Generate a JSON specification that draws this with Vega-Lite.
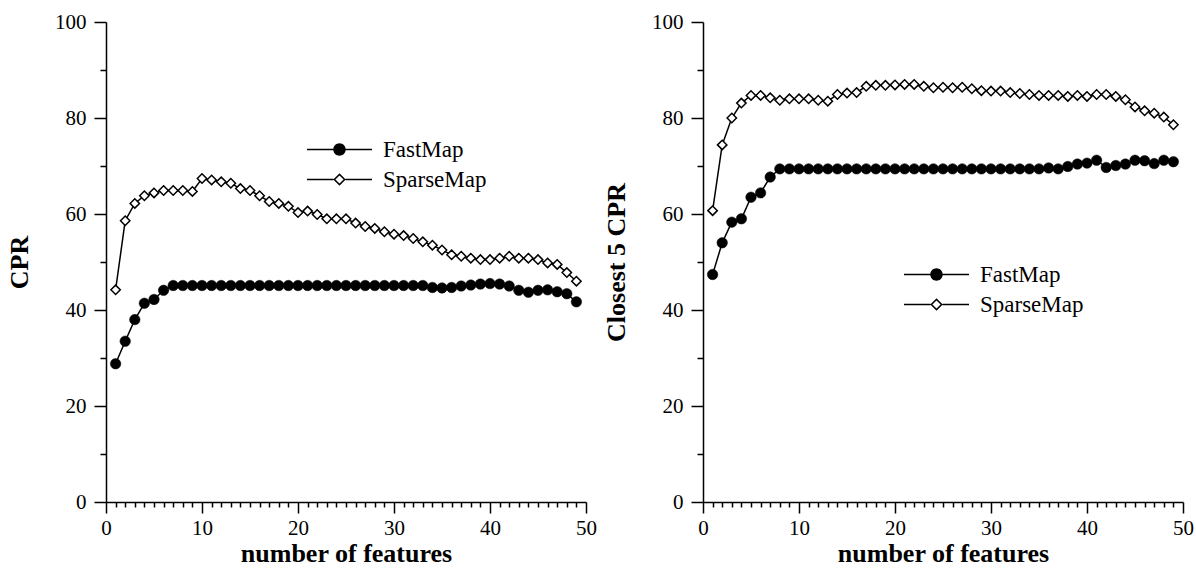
{
"$schema": "https://vega.github.io/schema/vega-lite/v6.json",
"padding": {"left": 6, "top": 11, "right": 0, "bottom": 0},
"spacing": 6,
"config": {
  "view": {"stroke": null},
  "font": "Liberation Serif",
  "axis": {"labelFont": "Liberation Serif", "labelFontSize": 21, "labelColor": "black", "titleFont": "Liberation Serif", "titleFontSize": 26, "titleFontWeight": "bold", "titleColor": "black", "domainColor": "black", "tickColor": "black", "domainWidth": 1.5, "tickWidth": 1.5, "grid": false, "labelFlush": false, "labelOverlap": false}
},
"datasets": {"d": [
{"p":"L","s":"FastMap","x":1,"y":28.8},{"p":"L","s":"FastMap","x":2,"y":33.5},{"p":"L","s":"FastMap","x":3,"y":38.0},{"p":"L","s":"FastMap","x":4,"y":41.4},{"p":"L","s":"FastMap","x":5,"y":42.2},{"p":"L","s":"FastMap","x":6,"y":44.1},{"p":"L","s":"FastMap","x":7,"y":45.1},{"p":"L","s":"FastMap","x":8,"y":45.1},{"p":"L","s":"FastMap","x":9,"y":45.1},{"p":"L","s":"FastMap","x":10,"y":45.1},
{"p":"L","s":"FastMap","x":11,"y":45.1},{"p":"L","s":"FastMap","x":12,"y":45.1},{"p":"L","s":"FastMap","x":13,"y":45.1},{"p":"L","s":"FastMap","x":14,"y":45.1},{"p":"L","s":"FastMap","x":15,"y":45.1},{"p":"L","s":"FastMap","x":16,"y":45.1},{"p":"L","s":"FastMap","x":17,"y":45.1},{"p":"L","s":"FastMap","x":18,"y":45.1},{"p":"L","s":"FastMap","x":19,"y":45.1},{"p":"L","s":"FastMap","x":20,"y":45.1},
{"p":"L","s":"FastMap","x":21,"y":45.1},{"p":"L","s":"FastMap","x":22,"y":45.1},{"p":"L","s":"FastMap","x":23,"y":45.1},{"p":"L","s":"FastMap","x":24,"y":45.1},{"p":"L","s":"FastMap","x":25,"y":45.1},{"p":"L","s":"FastMap","x":26,"y":45.1},{"p":"L","s":"FastMap","x":27,"y":45.1},{"p":"L","s":"FastMap","x":28,"y":45.1},{"p":"L","s":"FastMap","x":29,"y":45.1},{"p":"L","s":"FastMap","x":30,"y":45.1},
{"p":"L","s":"FastMap","x":31,"y":45.1},{"p":"L","s":"FastMap","x":32,"y":45.1},{"p":"L","s":"FastMap","x":33,"y":45.1},{"p":"L","s":"FastMap","x":34,"y":44.7},{"p":"L","s":"FastMap","x":35,"y":44.6},{"p":"L","s":"FastMap","x":36,"y":44.7},{"p":"L","s":"FastMap","x":37,"y":45.0},{"p":"L","s":"FastMap","x":38,"y":45.2},{"p":"L","s":"FastMap","x":39,"y":45.4},{"p":"L","s":"FastMap","x":40,"y":45.5},
{"p":"L","s":"FastMap","x":41,"y":45.4},{"p":"L","s":"FastMap","x":42,"y":45.0},{"p":"L","s":"FastMap","x":43,"y":44.1},{"p":"L","s":"FastMap","x":44,"y":43.7},{"p":"L","s":"FastMap","x":45,"y":44.1},{"p":"L","s":"FastMap","x":46,"y":44.2},{"p":"L","s":"FastMap","x":47,"y":43.8},{"p":"L","s":"FastMap","x":48,"y":43.4},{"p":"L","s":"FastMap","x":49,"y":41.7},
{"p":"L","s":"SparseMap","x":1,"y":44.2},{"p":"L","s":"SparseMap","x":2,"y":58.6},{"p":"L","s":"SparseMap","x":3,"y":62.2},{"p":"L","s":"SparseMap","x":4,"y":63.8},{"p":"L","s":"SparseMap","x":5,"y":64.4},{"p":"L","s":"SparseMap","x":6,"y":64.9},{"p":"L","s":"SparseMap","x":7,"y":64.9},{"p":"L","s":"SparseMap","x":8,"y":64.9},{"p":"L","s":"SparseMap","x":9,"y":64.7},{"p":"L","s":"SparseMap","x":10,"y":67.4},
{"p":"L","s":"SparseMap","x":11,"y":67.1},{"p":"L","s":"SparseMap","x":12,"y":66.7},{"p":"L","s":"SparseMap","x":13,"y":66.4},{"p":"L","s":"SparseMap","x":14,"y":65.3},{"p":"L","s":"SparseMap","x":15,"y":64.9},{"p":"L","s":"SparseMap","x":16,"y":63.8},{"p":"L","s":"SparseMap","x":17,"y":62.6},{"p":"L","s":"SparseMap","x":18,"y":62.2},{"p":"L","s":"SparseMap","x":19,"y":61.6},{"p":"L","s":"SparseMap","x":20,"y":60.3},
{"p":"L","s":"SparseMap","x":21,"y":60.6},{"p":"L","s":"SparseMap","x":22,"y":59.9},{"p":"L","s":"SparseMap","x":23,"y":59.0},{"p":"L","s":"SparseMap","x":24,"y":59.0},{"p":"L","s":"SparseMap","x":25,"y":59.0},{"p":"L","s":"SparseMap","x":26,"y":58.1},{"p":"L","s":"SparseMap","x":27,"y":57.4},{"p":"L","s":"SparseMap","x":28,"y":57.0},{"p":"L","s":"SparseMap","x":29,"y":56.3},{"p":"L","s":"SparseMap","x":30,"y":55.8},
{"p":"L","s":"SparseMap","x":31,"y":55.5},{"p":"L","s":"SparseMap","x":32,"y":54.9},{"p":"L","s":"SparseMap","x":33,"y":54.2},{"p":"L","s":"SparseMap","x":34,"y":53.5},{"p":"L","s":"SparseMap","x":35,"y":52.5},{"p":"L","s":"SparseMap","x":36,"y":51.5},{"p":"L","s":"SparseMap","x":37,"y":51.2},{"p":"L","s":"SparseMap","x":38,"y":50.8},{"p":"L","s":"SparseMap","x":39,"y":50.5},{"p":"L","s":"SparseMap","x":40,"y":50.5},
{"p":"L","s":"SparseMap","x":41,"y":50.8},{"p":"L","s":"SparseMap","x":42,"y":51.2},{"p":"L","s":"SparseMap","x":43,"y":50.8},{"p":"L","s":"SparseMap","x":44,"y":50.8},{"p":"L","s":"SparseMap","x":45,"y":50.5},{"p":"L","s":"SparseMap","x":46,"y":49.8},{"p":"L","s":"SparseMap","x":47,"y":49.5},{"p":"L","s":"SparseMap","x":48,"y":47.8},{"p":"L","s":"SparseMap","x":49,"y":46.0},
{"p":"R","s":"FastMap","x":1,"y":47.4},{"p":"R","s":"FastMap","x":2,"y":54.0},{"p":"R","s":"FastMap","x":3,"y":58.3},{"p":"R","s":"FastMap","x":4,"y":59.0},{"p":"R","s":"FastMap","x":5,"y":63.5},{"p":"R","s":"FastMap","x":6,"y":64.4},{"p":"R","s":"FastMap","x":7,"y":67.7},{"p":"R","s":"FastMap","x":8,"y":69.4},{"p":"R","s":"FastMap","x":9,"y":69.4},{"p":"R","s":"FastMap","x":10,"y":69.4},
{"p":"R","s":"FastMap","x":11,"y":69.4},{"p":"R","s":"FastMap","x":12,"y":69.4},{"p":"R","s":"FastMap","x":13,"y":69.4},{"p":"R","s":"FastMap","x":14,"y":69.4},{"p":"R","s":"FastMap","x":15,"y":69.4},{"p":"R","s":"FastMap","x":16,"y":69.4},{"p":"R","s":"FastMap","x":17,"y":69.4},{"p":"R","s":"FastMap","x":18,"y":69.4},{"p":"R","s":"FastMap","x":19,"y":69.4},{"p":"R","s":"FastMap","x":20,"y":69.4},
{"p":"R","s":"FastMap","x":21,"y":69.4},{"p":"R","s":"FastMap","x":22,"y":69.4},{"p":"R","s":"FastMap","x":23,"y":69.4},{"p":"R","s":"FastMap","x":24,"y":69.4},{"p":"R","s":"FastMap","x":25,"y":69.4},{"p":"R","s":"FastMap","x":26,"y":69.4},{"p":"R","s":"FastMap","x":27,"y":69.4},{"p":"R","s":"FastMap","x":28,"y":69.4},{"p":"R","s":"FastMap","x":29,"y":69.4},{"p":"R","s":"FastMap","x":30,"y":69.4},
{"p":"R","s":"FastMap","x":31,"y":69.4},{"p":"R","s":"FastMap","x":32,"y":69.4},{"p":"R","s":"FastMap","x":33,"y":69.4},{"p":"R","s":"FastMap","x":34,"y":69.4},{"p":"R","s":"FastMap","x":35,"y":69.4},{"p":"R","s":"FastMap","x":36,"y":69.6},{"p":"R","s":"FastMap","x":37,"y":69.4},{"p":"R","s":"FastMap","x":38,"y":69.9},{"p":"R","s":"FastMap","x":39,"y":70.4},{"p":"R","s":"FastMap","x":40,"y":70.6},
{"p":"R","s":"FastMap","x":41,"y":71.2},{"p":"R","s":"FastMap","x":42,"y":69.7},{"p":"R","s":"FastMap","x":43,"y":70.1},{"p":"R","s":"FastMap","x":44,"y":70.4},{"p":"R","s":"FastMap","x":45,"y":71.2},{"p":"R","s":"FastMap","x":46,"y":71.1},{"p":"R","s":"FastMap","x":47,"y":70.5},{"p":"R","s":"FastMap","x":48,"y":71.2},{"p":"R","s":"FastMap","x":49,"y":70.9},
{"p":"R","s":"SparseMap","x":1,"y":60.7},{"p":"R","s":"SparseMap","x":2,"y":74.4},{"p":"R","s":"SparseMap","x":3,"y":80.0},{"p":"R","s":"SparseMap","x":4,"y":83.1},{"p":"R","s":"SparseMap","x":5,"y":84.7},{"p":"R","s":"SparseMap","x":6,"y":84.7},{"p":"R","s":"SparseMap","x":7,"y":84.2},{"p":"R","s":"SparseMap","x":8,"y":83.7},{"p":"R","s":"SparseMap","x":9,"y":84.0},{"p":"R","s":"SparseMap","x":10,"y":84.0},
{"p":"R","s":"SparseMap","x":11,"y":84.0},{"p":"R","s":"SparseMap","x":12,"y":83.7},{"p":"R","s":"SparseMap","x":13,"y":83.5},{"p":"R","s":"SparseMap","x":14,"y":84.9},{"p":"R","s":"SparseMap","x":15,"y":85.2},{"p":"R","s":"SparseMap","x":16,"y":85.3},{"p":"R","s":"SparseMap","x":17,"y":86.6},{"p":"R","s":"SparseMap","x":18,"y":86.8},{"p":"R","s":"SparseMap","x":19,"y":86.8},{"p":"R","s":"SparseMap","x":20,"y":86.9},
{"p":"R","s":"SparseMap","x":21,"y":87.0},{"p":"R","s":"SparseMap","x":22,"y":87.0},{"p":"R","s":"SparseMap","x":23,"y":86.6},{"p":"R","s":"SparseMap","x":24,"y":86.3},{"p":"R","s":"SparseMap","x":25,"y":86.4},{"p":"R","s":"SparseMap","x":26,"y":86.3},{"p":"R","s":"SparseMap","x":27,"y":86.4},{"p":"R","s":"SparseMap","x":28,"y":86.1},{"p":"R","s":"SparseMap","x":29,"y":85.7},{"p":"R","s":"SparseMap","x":30,"y":85.6},
{"p":"R","s":"SparseMap","x":31,"y":85.6},{"p":"R","s":"SparseMap","x":32,"y":85.3},{"p":"R","s":"SparseMap","x":33,"y":85.1},{"p":"R","s":"SparseMap","x":34,"y":84.9},{"p":"R","s":"SparseMap","x":35,"y":84.7},{"p":"R","s":"SparseMap","x":36,"y":84.7},{"p":"R","s":"SparseMap","x":37,"y":84.7},{"p":"R","s":"SparseMap","x":38,"y":84.5},{"p":"R","s":"SparseMap","x":39,"y":84.7},{"p":"R","s":"SparseMap","x":40,"y":84.5},
{"p":"R","s":"SparseMap","x":41,"y":84.9},{"p":"R","s":"SparseMap","x":42,"y":84.9},{"p":"R","s":"SparseMap","x":43,"y":84.5},{"p":"R","s":"SparseMap","x":44,"y":83.8},{"p":"R","s":"SparseMap","x":45,"y":82.3},{"p":"R","s":"SparseMap","x":46,"y":81.5},{"p":"R","s":"SparseMap","x":47,"y":81.0},{"p":"R","s":"SparseMap","x":48,"y":80.2},{"p":"R","s":"SparseMap","x":49,"y":78.6}
]},
"resolve": {"scale": {"x": "independent", "y": "independent", "shape": "independent"}},
"hconcat": [
 {
  "width": 480, "height": 480,
  "data": {"name": "d"},
  "transform": [{"filter": "datum.p === 'L'"}],
  "layer": [
   {"mark": {"type": "line", "stroke": "black", "strokeWidth": 1.5},
    "encoding": {
     "x": {"field": "x", "type": "quantitative", "scale": {"domain": [0, 50], "nice": false, "zero": false}, "axis": {"orient": "bottom", "values": [0,1,2,3,4,5,6,7,8,9,10,11,12,13,14,15,16,17,18,19,20,21,22,23,24,25,26,27,28,29,30,31,32,33,34,35,36,37,38,39,40,41,42,43,44,45,46,47,48,49,50], "tickCount": 60, "tickSize": {"condition": {"test": "datum.value % 10 === 0", "value": 11}, "value": 5}, "labelExpr": "datum.value % 10 === 0 ? datum.label : ''", "labelPadding": 4, "title": "number of features", "titlePadding": 2}},
     "y": {"field": "y", "type": "quantitative", "scale": {"domain": [0, 100], "nice": false, "zero": false}, "axis": {"orient": "left", "values": [0,10,20,30,40,50,60,70,80,90,100], "tickCount": 20, "tickSize": {"condition": {"test": "datum.value % 20 === 0", "value": 12}, "value": 6}, "labelExpr": "datum.value % 20 === 0 ? datum.label : ''", "labelPadding": 8, "title": "CPR", "titlePadding": 22}},
     "detail": {"field": "s"}}},
   {"transform": [{"filter": "datum.s === 'FastMap'"}],
    "mark": {"type": "point", "shape": "circle", "filled": true, "fill": "black", "stroke": "black", "strokeWidth": 0.5, "size": 110, "opacity": 1},
    "encoding": {"x": {"field": "x", "type": "quantitative"}, "y": {"field": "y", "type": "quantitative"}}},
   {"transform": [{"filter": "datum.s === 'SparseMap'"}],
    "mark": {"type": "point", "shape": "diamond", "filled": true, "fill": "white", "stroke": "black", "strokeWidth": 1.5, "size": 88, "opacity": 1},
    "encoding": {"x": {"field": "x", "type": "quantitative"}, "y": {"field": "y", "type": "quantitative"}}},
   {"transform": [{"filter": "false"}],
    "mark": {"type": "point", "filled": true, "color": "black", "opacity": 1},
    "encoding": {
     "x": {"field": "x", "type": "quantitative"}, "y": {"field": "y", "type": "quantitative"},
     "shape": {"field": "s", "type": "nominal", "scale": {"domain": ["FastMap", "SparseMap"], "range": ["M-3.25,-0.075L3.25,-0.075L3.25,0.075L-3.25,0.075ZM-0.62,0A0.62,0.62,0,1,1,0.62,0A0.62,0.62,0,1,1,-0.62,0Z", "M-3.25,-0.075L-0.6,-0.075L-0.6,0.075L-3.25,0.075ZM0.6,-0.075L3.25,-0.075L3.25,0.075L0.6,0.075ZM-0.62,0L0,-0.62L0.62,0L0,0.62ZM-0.41,0L0,0.41L0.41,0L0,-0.41Z"]},
      "legend": {"title": null, "orient": "none", "legendX": 222, "legendY": 116, "symbolSize": 400, "symbolStrokeWidth": 1.5, "labelFont": "Liberation Serif", "labelFontSize": 23, "labelColor": "black", "labelOffset": 32, "rowPadding": 6, "padding": 0, "symbolOffset": 0,
       "encode": {"symbols": {"update": {"fill": {"value": "black"}, "opacity": {"value": 1}}}}}}}}
  ]
 },
 {
  "width": 480, "height": 480,
  "data": {"name": "d"},
  "transform": [{"filter": "datum.p === 'R'"}],
  "layer": [
   {"mark": {"type": "line", "stroke": "black", "strokeWidth": 1.5},
    "encoding": {
     "x": {"field": "x", "type": "quantitative", "scale": {"domain": [0, 50], "nice": false, "zero": false}, "axis": {"orient": "bottom", "values": [0,1,2,3,4,5,6,7,8,9,10,11,12,13,14,15,16,17,18,19,20,21,22,23,24,25,26,27,28,29,30,31,32,33,34,35,36,37,38,39,40,41,42,43,44,45,46,47,48,49,50], "tickCount": 60, "tickSize": {"condition": {"test": "datum.value % 10 === 0", "value": 11}, "value": 5}, "labelExpr": "datum.value % 10 === 0 ? datum.label : ''", "labelPadding": 4, "title": "number of features", "titlePadding": 2}},
     "y": {"field": "y", "type": "quantitative", "scale": {"domain": [0, 100], "nice": false, "zero": false}, "axis": {"orient": "left", "values": [0,10,20,30,40,50,60,70,80,90,100], "tickCount": 20, "tickSize": {"condition": {"test": "datum.value % 20 === 0", "value": 12}, "value": 6}, "labelExpr": "datum.value % 20 === 0 ? datum.label : ''", "labelPadding": 8, "title": "Closest 5 CPR", "titlePadding": 22}},
     "detail": {"field": "s"}}},
   {"transform": [{"filter": "datum.s === 'FastMap'"}],
    "mark": {"type": "point", "shape": "circle", "filled": true, "fill": "black", "stroke": "black", "strokeWidth": 0.5, "size": 110, "opacity": 1},
    "encoding": {"x": {"field": "x", "type": "quantitative"}, "y": {"field": "y", "type": "quantitative"}}},
   {"transform": [{"filter": "datum.s === 'SparseMap'"}],
    "mark": {"type": "point", "shape": "diamond", "filled": true, "fill": "white", "stroke": "black", "strokeWidth": 1.5, "size": 88, "opacity": 1},
    "encoding": {"x": {"field": "x", "type": "quantitative"}, "y": {"field": "y", "type": "quantitative"}}},
   {"transform": [{"filter": "false"}],
    "mark": {"type": "point", "filled": true, "color": "black", "opacity": 1},
    "encoding": {
     "x": {"field": "x", "type": "quantitative"}, "y": {"field": "y", "type": "quantitative"},
     "shape": {"field": "s", "type": "nominal", "scale": {"domain": ["FastMap", "SparseMap"], "range": ["M-3.25,-0.075L3.25,-0.075L3.25,0.075L-3.25,0.075ZM-0.62,0A0.62,0.62,0,1,1,0.62,0A0.62,0.62,0,1,1,-0.62,0Z", "M-3.25,-0.075L-0.6,-0.075L-0.6,0.075L-3.25,0.075ZM0.6,-0.075L3.25,-0.075L3.25,0.075L0.6,0.075ZM-0.62,0L0,-0.62L0.62,0L0,0.62ZM-0.41,0L0,0.41L0.41,0L0,-0.41Z"]},
      "legend": {"title": null, "orient": "none", "legendX": 222, "legendY": 241, "symbolSize": 400, "symbolStrokeWidth": 1.5, "labelFont": "Liberation Serif", "labelFontSize": 23, "labelColor": "black", "labelOffset": 32, "rowPadding": 6, "padding": 0, "symbolOffset": 0,
       "encode": {"symbols": {"update": {"fill": {"value": "black"}, "opacity": {"value": 1}}}}}}}}
  ]
 }
]
}
